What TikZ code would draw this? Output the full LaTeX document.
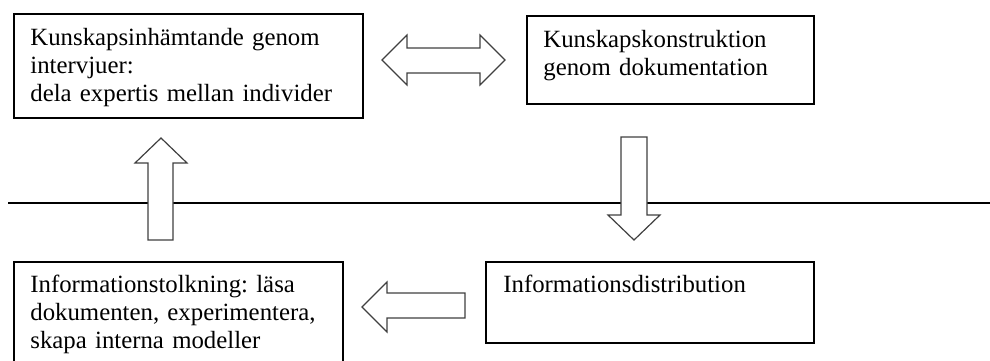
\documentclass[tikz,border=0pt]{standalone}
\usepackage{fontspec}
\setmainfont{Liberation Serif}
\usepackage{tikz}

\tikzset{
  box/.style = {draw, line width = 0.8pt, inner sep = 0pt, anchor = north west},
  txt/.style = {inner sep = 0pt, anchor = base west, align = left, text width = 170pt,
                font = \fontsize{12.4}{14}\selectfont\frenchspacing},
  blockarrow/.style = {draw = black!75, fill = white, line width = 0.6pt, line join = miter}
}

\begin{document}
\begin{tikzpicture}[x = 0.5pt, y = -0.5pt]
      \useasboundingbox (0, 0) rectangle (990, 360);
      % boxes
      \node[box, minimum width = 174.5pt, minimum height = 52pt] (intervju) at (13, 13) {};
      \node[box, minimum width = 143.5pt, minimum height = 44pt] (konstruktion) at (526, 15) {};
      \node[box, minimum width = 164.5pt, minimum height = 55pt] (tolkning) at (13, 261) {};
      \node[box, minimum width = 164pt, minimum height = 40.5pt] (distribution) at (485, 261) {};
      % texts
      \node[txt] (intervjutext) at (30, 45) {Kunskapsinhämtande genom\\intervjuer:\\dela expertis mellan individer};
      \node[txt] (konstruktiontext) at (543, 47) {Kunskapskonstruktion\\genom dokumentation};
      \node[txt] (tolkningtext) at (30, 292) {Informationstolkning: läsa\\dokumenten, experimentera,\\skapa interna modeller};
      \node[txt] (distributiontext) at (503, 292) {Informationsdistribution};
      % line
      \draw[line width = 0.75pt] (8, 203) -- (990, 203);
      % block arrows
      \draw[blockarrow] (382, 60) -- (407, 35) -- (407, 48) -- (480, 48) -- (480, 35) -- (505, 60)
            -- (480, 85) -- (480, 73) -- (407, 73) -- (407, 85) -- cycle;
      \draw[blockarrow] (161, 138) -- (187, 163) -- (173, 163) -- (173, 240) -- (148, 240)
            -- (148, 163) -- (135, 163) -- cycle;
      \draw[blockarrow] (634, 240) -- (660, 215) -- (647, 215) -- (647, 137) -- (621, 137)
            -- (621, 215) -- (608, 215) -- cycle;
      \draw[blockarrow] (362, 307) -- (387, 282) -- (387, 293) -- (465, 293) -- (465, 318)
            -- (387, 318) -- (387, 332) -- cycle;
    \end{tikzpicture}
\end{document}
